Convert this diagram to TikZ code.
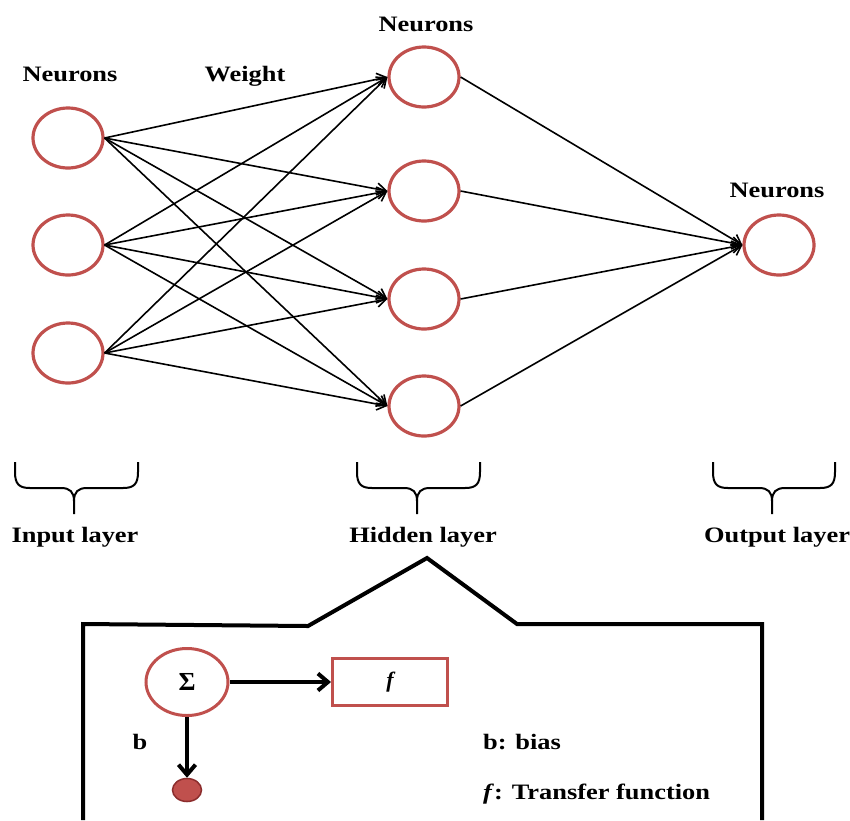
\documentclass[tikz,border=0pt]{standalone}
\usepackage{fontspec}
\setmainfont{Liberation Serif}
\usepackage{graphicx}
\usetikzlibrary{shapes.geometric,arrows.meta}
\definecolor{nred}{RGB}{192,80,77}
\definecolor{dred}{RGB}{140,45,45}
\newcommand\wtxt[1]{\scalebox{1.2}[1]{#1}}
\begin{document}
\begin{tikzpicture}[x=1pt,y=-1pt,
 neuron/.style={ellipse,draw=nred,line width=3.2pt,minimum width=70pt,minimum height=60pt,inner sep=0pt},
 lbl/.style={font=\fontsize{22}{26}\selectfont\bfseries,inner sep=0pt},
 conn/.style={line width=1.6pt,-{Straight Barb[length=9pt,width=12pt]}},
 thickconn/.style={line width=4pt,-{Straight Barb[length=10pt,width=17pt]}},
 bracepath/.style={line width=2pt},
 frame/.style={line width=4pt,line join=miter}]
\fill[white] (0,0) rectangle (850,820);
\useasboundingbox (0,0) rectangle (850,820);

% input layer
\node[neuron] (i1) at (68,138) {};
\node[neuron] (i2) at (68,245) {};
\node[neuron] (i3) at (68,353) {};
% hidden layer
\node[neuron] (h1) at (424,77) {};
\node[neuron] (h2) at (424,191) {};
\node[neuron] (h3) at (424,299) {};
\node[neuron] (h4) at (424,406) {};
% output layer
\node[neuron] (o1) at (779,245) {};

\foreach \i in {1,2,3}{
  \foreach \h in {1,2,3,4}{
    \draw[conn] (i\i.east) -- (h\h.west);
  }
}
\foreach \h in {1,2,3,4}{
  \draw[conn] (h\h.east) -- (o1.west);
}

% labels
\node[lbl,anchor=base] (nin) at (70,81) {\wtxt{Neurons}};
\node[lbl,anchor=base] (wt) at (245,81) {\wtxt{Weight}};
\node[lbl,anchor=base] (nhid) at (426,31) {\wtxt{Neurons}};
\node[lbl,anchor=base] (nout) at (777,197) {\wtxt{Neurons}};

% braces
\foreach \a/\m/\b in {15/74/138, 357/417/480, 713/772/835}{
  \draw[bracepath] (\a,462) -- (\a,472) .. controls (\a,484) and (\a+4,488) .. (\a+15,488) -- (\m-13,488) .. controls (\m-4,488) and (\m,492) .. (\m,501) -- (\m,514);
  \draw[bracepath] (\b,462) -- (\b,472) .. controls (\b,484) and (\b-4,488) .. (\b-15,488) -- (\m+13,488) .. controls (\m+4,488) and (\m,492) .. (\m,501);
}
\node[lbl,anchor=base] (lin) at (75,542) {\wtxt{Input layer}};
\node[lbl,anchor=base] (lhid) at (423,542) {\wtxt{Hidden layer}};
\node[lbl,anchor=base] (lout) at (777,542) {\wtxt{Output layer}};

% detail frame
\draw[frame] (83,820) -- (83,624) -- (308,626) -- (427,558) -- (517,624) -- (762,624) -- (762,820);

\node[ellipse,draw=nred,line width=3pt,minimum width=82pt,minimum height=67pt,inner sep=0pt,font=\fontsize{26}{30}\selectfont\bfseries] (sig) at (187,682) {Σ};
\node[rectangle,draw=nred,line width=3pt,minimum width=115pt,minimum height=47pt,inner sep=0pt,font=\fontsize{22}{26}\selectfont\bfseries\itshape] (fbox) at (390,682) {f};
\node[ellipse,fill=nred,draw=dred,line width=1.5pt,minimum width=29pt,minimum height=23pt,inner sep=0pt] (dot) at (187,790) {};
\draw[thickconn] (sig.east) -- (fbox.west);
\draw[thickconn] (sig.south) -- (dot.north);

\node[lbl,anchor=base] (bl) at (140,749) {\wtxt{b}};
\node[lbl,anchor=base west] (bias) at (483,749) {\wtxt{b: bias}};
\node[lbl,anchor=base west] (tf) at (483,799) {\wtxt{\textit{f}: Transfer function}};
\end{tikzpicture}
\end{document}
